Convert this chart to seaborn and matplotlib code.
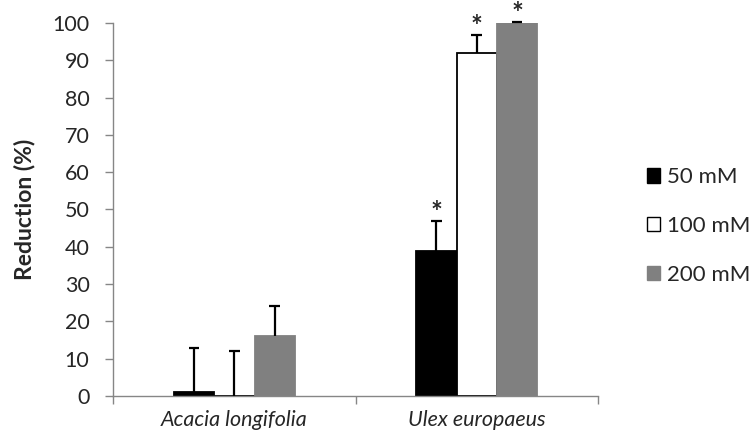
import matplotlib
matplotlib.use("Agg")
import matplotlib.pyplot as plt
from matplotlib.patches import Patch
import seaborn as sns
import pandas as pd
import numpy as np

species = ["Acacia longifolia", "Ulex europaeus"]
concentrations = ["50 mM", "100 mM", "200 mM"]
values_50 = [1.0, 39.0]
values_100 = [0.0, 92.0]
values_200 = [16.0, 100.0]
err_50 = [12.0, 8.0]
err_100 = [12.0, 4.8]
err_200 = [8.0, 0.3]
significant_50 = [False, True]
significant_100 = [False, True]
significant_200 = [False, True]

sns.set_theme(style="white")
plt.rcParams['font.family'] = ['Lato', 'DejaVu Sans']

rows = []
for conc, vals, errs, sig in zip(concentrations,
                                 [values_50, values_100, values_200],
                                 [err_50, err_100, err_200],
                                 [significant_50, significant_100, significant_200]):
    for sp, v, e, s in zip(species, vals, errs, sig):
        rows.append({"species": sp, "conc": conc, "value": v, "err": e, "sig": s})
df = pd.DataFrame(rows)

fills = {"50 mM": "#000000", "100 mM": "#ffffff", "200 mM": "#808080"}
edges = {"50 mM": "#000000", "100 mM": "#000000", "200 mM": "#808080"}

fig = plt.figure(figsize=(7.54, 4.41), dpi=100)
ax = fig.add_axes([0.150, 0.102, 0.643, 0.846])

sns.barplot(data=df, x="species", y="value", hue="conc", order=species,
            hue_order=concentrations, palette=fills, width=0.5, errorbar=None,
            legend=False, ax=ax, saturation=1)

# style bars and add upper-only error bars
patches = list(ax.patches)
idx = 0
cap_half = 0.022
for conc in concentrations:
    for sp in species:
        p = patches[idx]
        idx += 1
        p.set_edgecolor(edges[conc])
        p.set_linewidth(1.3)
        r = df[(df.species == sp) & (df.conc == conc)].iloc[0]
        xc = p.get_x() + p.get_width() / 2
        top = r.value + r.err
        ax.vlines(xc, r.value, top, colors="black", linewidth=1.6, zorder=5, clip_on=False)
        ax.hlines(top, xc - cap_half, xc + cap_half, colors="black", linewidth=1.6,
                  zorder=5, clip_on=False)
        if r.sig:
            ax.text(xc, top - 1.4, "*", ha="center", va="bottom",
                    fontsize=20, fontweight="bold", clip_on=False)

ax.set_ylim(0, 100)
ax.set_xlim(-0.5, 1.5)
ax.set_yticks(np.arange(0, 101, 10))
ax.tick_params(axis="y", which="major", direction="out", length=6, width=1,
               color="#868686", labelsize=15.5, left=True, pad=11)
ax.set_xticks([0, 1])
ax.set_xticklabels(species, fontsize=15.5, fontstyle="italic")
ax.tick_params(axis="x", which="major", length=0, pad=10)
ax.set_xticks([-0.5, 0.5, 1.5], minor=True)
ax.tick_params(axis="x", which="minor", direction="out", length=5.5, width=1,
               color="#868686", bottom=True)
for s in ["top", "right"]:
    ax.spines[s].set_visible(False)
for s in ["left", "bottom"]:
    ax.spines[s].set_color("#868686")
    ax.spines[s].set_linewidth(1)
ax.set_xlabel("")
ax.set_ylabel("Reduction (%)", fontsize=16.5, fontweight="bold", labelpad=12)

handles = [Patch(facecolor=fills[c], edgecolor="black" if c == "100 mM" else fills[c],
                 linewidth=1.0, label=c) for c in concentrations]
leg = ax.legend(handles=handles, loc="center left", bbox_to_anchor=(1.06, 0.455),
                frameon=False, fontsize=16, handlelength=0.6, handleheight=0.6,
                handletextpad=0.3, labelspacing=1.3)

fig.savefig("out.png", dpi=100)
